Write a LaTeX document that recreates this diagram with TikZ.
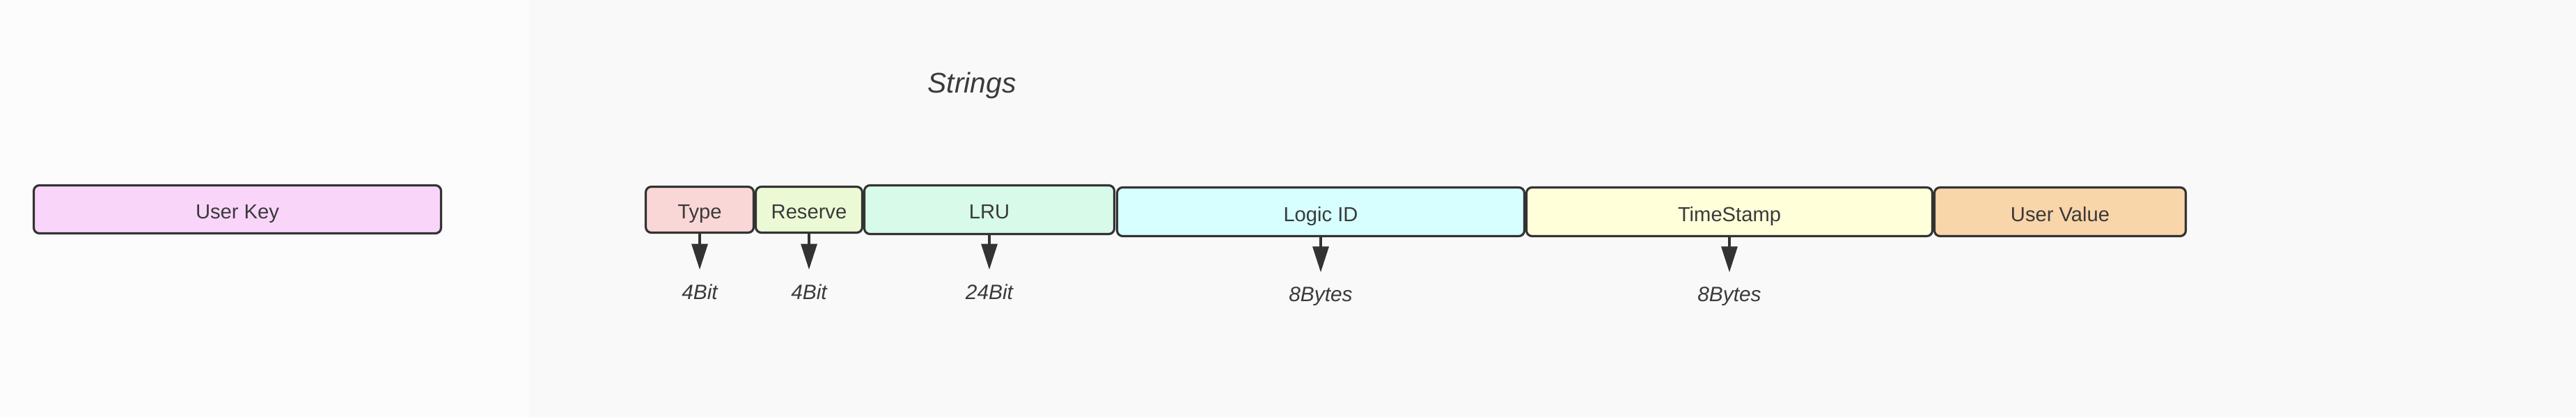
\documentclass[tikz,border=0pt]{standalone}
\usepackage{fontspec}
\setmainfont{Liberation Sans}
\usetikzlibrary{arrows.meta}

\definecolor{paper}{HTML}{F9F9F9}
\definecolor{paperleft}{HTML}{FCFCFC}
\definecolor{edge}{HTML}{333333}
\definecolor{ink}{HTML}{3A3A3A}
\definecolor{keyfill}{HTML}{FAD5FA}
\definecolor{typefill}{HTML}{FAD7D7}
\definecolor{reservefill}{HTML}{EBFAD5}
\definecolor{lrufill}{HTML}{D7FAE9}
\definecolor{logicfill}{HTML}{D7FFFF}
\definecolor{stampfill}{HTML}{FFFFDA}
\definecolor{valuefill}{HTML}{F9D5AA}

\begin{document}
\begin{tikzpicture}[
    field/.style={draw=edge, line width=0.9pt, rounded corners=0.8mm, text=ink,
      inner sep=0pt, text height=0.34cm, text depth=0.07cm,
      font=\fontsize{8.3}{10}\selectfont},
    size/.style={anchor=base, inner sep=0pt, text=ink,
      font=\fontsize{8.5}{10}\selectfont\itshape},
    pointer/.style={-{Triangle[length=3.7mm,width=2.3mm]}, draw=edge,
      line width=0.9pt, shorten >=2mm},
]
    % page background, left part a little lighter
    \fill[paper] (0,0) rectangle (37,6);
    \fill[paperleft] (0,0) rectangle (7.6,6);

    \node[anchor=base, text=ink, font=\fontsize{11.6}{14}\selectfont\itshape]
        (title) at (13.96,4.66) {Strings};

    \node[field, fill=keyfill, minimum width=5.85cm, minimum height=0.69cm]
        (userkey) at (3.41,2.99) {User Key};

    % the value layout, field by field
    \node[field, fill=typefill, minimum width=1.55cm, minimum height=0.66cm]
        (type) at (10.05,2.985) {Type};
    \node[field, fill=reservefill, minimum width=1.53cm, minimum height=0.66cm]
        (reserve) at (11.62,2.985) {Reserve};
    \node[field, fill=lrufill, minimum width=3.59cm, minimum height=0.70cm]
        (lru) at (14.21,2.985) {LRU};
    \node[field, fill=logicfill, minimum width=5.85cm, minimum height=0.70cm]
        (logic) at (18.97,2.955) {Logic ID};
    \node[field, fill=stampfill, minimum width=5.83cm, minimum height=0.70cm]
        (stamp) at (24.84,2.955) {TimeStamp};
    \node[field, fill=valuefill, minimum width=3.61cm, minimum height=0.70cm]
        (uservalue) at (29.59,2.955) {User Value};

    % sizes below the fields
    \node[size] (typelen)    at (type.south |- 0,1.70)    {4Bit};
    \node[size] (reservelen) at (reserve.south |- 0,1.70) {4Bit};
    \node[size] (lrulen)     at (lru.south |- 0,1.70)     {24Bit};
    \node[size] (logiclen)   at (logic.south |- 0,1.67)   {8Bytes};
    \node[size] (stamplen)   at (stamp.south |- 0,1.67)   {8Bytes};

    \draw[pointer] (type.south)    -- (typelen.north);
    \draw[pointer] (reserve.south) -- (reservelen.north);
    \draw[pointer] (lru.south)     -- (lrulen.north);
    \draw[pointer] (logic.south)   -- (logiclen.north);
    \draw[pointer] (stamp.south)   -- (stamplen.north);
\end{tikzpicture}
\end{document}
